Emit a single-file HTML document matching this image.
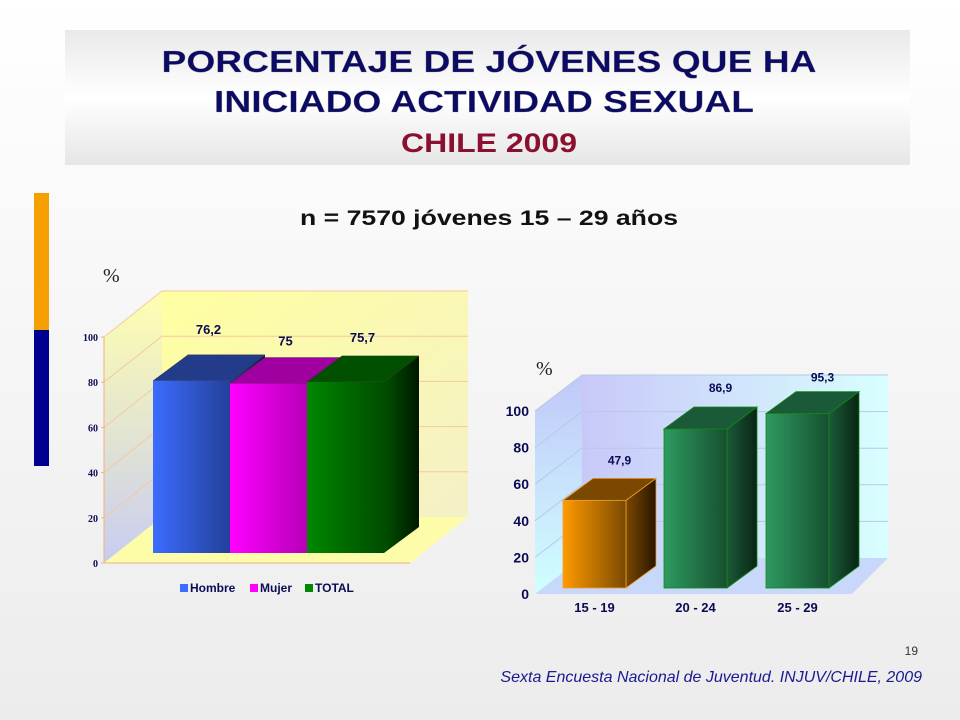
<!DOCTYPE html>
<html><head><meta charset="utf-8"><style>
body{margin:0;background:#fff;}
svg{display:block;font-family:"Liberation Sans",Arial,sans-serif;}
</style></head><body>
<svg id="s" width="960" height="720" viewBox="0 0 960 720">
<defs>
<linearGradient id="bg" x1="0" y1="0" x2="0" y2="1"><stop offset="0" stop-color="#ffffff"/><stop offset="1" stop-color="#ececec"/></linearGradient>
<linearGradient id="tb" x1="0" y1="0" x2="0" y2="1"><stop offset="0" stop-color="#e9e9e9"/><stop offset="0.5" stop-color="#ffffff"/><stop offset="1" stop-color="#e6e6e6"/></linearGradient>
<linearGradient id="wall1" x1="0" y1="0" x2="1" y2="1"><stop offset="0" stop-color="#ffffa0"/><stop offset="1" stop-color="#f4f0c8"/></linearGradient>
<linearGradient id="side1" x1="0" y1="0" x2="0" y2="1"><stop offset="0" stop-color="#ffffb0"/><stop offset="1" stop-color="#c8ccf0"/></linearGradient>
<linearGradient id="wall2" x1="0" y1="0" x2="1" y2="0"><stop offset="0" stop-color="#c8c8f8"/><stop offset="1" stop-color="#d8ffff"/></linearGradient>
<linearGradient id="side2" x1="0" y1="0" x2="0" y2="1"><stop offset="0" stop-color="#c0c8f8"/><stop offset="1" stop-color="#d0ffff"/></linearGradient>
</defs>
<rect width="960" height="720" fill="url(#bg)"/>
<rect x="65" y="30" width="845" height="135" fill="url(#tb)"/>
<g font-weight="bold" text-anchor="middle">
<text x="489" y="72" font-size="31" fill="#0b0b66" textLength="655" lengthAdjust="spacingAndGlyphs" stroke="#888" stroke-width="0.3">PORCENTAJE DE JÓVENES QUE HA</text>
<text x="484" y="112" font-size="31" fill="#0b0b66" textLength="540" lengthAdjust="spacingAndGlyphs" stroke="#888" stroke-width="0.3">INICIADO ACTIVIDAD SEXUAL</text>
<text x="489" y="152" font-size="27" fill="#8b0f2e" textLength="176" lengthAdjust="spacingAndGlyphs">CHILE 2009</text>
</g>
<text x="489" y="225" font-size="21" font-weight="bold" text-anchor="middle" fill="#111" textLength="378" lengthAdjust="spacingAndGlyphs">n = 7570 jóvenes 15 – 29 años</text>
<rect x="34" y="193" width="15" height="137" fill="#f5a000"/>
<rect x="34" y="330" width="15" height="136" fill="#000090"/>
<text x="103" y="282" font-size="20" fill="#222" font-family="Liberation Serif,serif">%</text>
<text x="536" y="375" font-size="20" fill="#222" font-family="Liberation Serif,serif">%</text>
<g id="c1"></g>
<g id="c2"></g>
<text x="918" y="655" font-size="12" fill="#333" text-anchor="end">19</text>
<text x="922" y="682" font-size="16" font-style="italic" fill="#1a1a90" text-anchor="end">Sexta Encuesta Nacional de Juventud. INJUV/CHILE, 2009</text>
</svg>
<script>
const c1Categories = ["Hombre","Mujer","TOTAL"];
const c1Values = [76.2, 75, 75.7];
const c1Labels = ["76,2","75","75,7"];
const c1Ticks = [0,20,40,60,80,100];
const c2Categories = ["15 - 19","20 - 24","25 - 29"];
const c2Values = [47.9, 86.9, 95.3];
const c2Labels = ["47,9","86,9","95,3"];
const c2Ticks = [0,20,40,60,80,100];

const NS="http://www.w3.org/2000/svg";
let gid=0;
function mk(parent,tag,attrs){const e=document.createElementNS(NS,tag);for(const k in attrs)e.setAttribute(k,attrs[k]);parent.appendChild(e);return e;}
function grad(c1,c2){const defs=document.querySelector('defs');const id='g'+(gid++);const g=mk(defs,'linearGradient',{id:id,x1:0,y1:0,x2:1,y2:0});mk(g,'stop',{offset:0,'stop-color':c1});mk(g,'stop',{offset:1,'stop-color':c2});return 'url(#'+id+')';}

// Chart 1
(function(){
  const g=document.getElementById('c1');
  const ax=104, base=563, sc=2.26, dx=58, dy=-46, fw=306;
  const y=v=>base-v*sc;
  mk(g,'polygon',{points:`${ax},${base} ${ax+dx},${base+dy} ${ax+dx},${y(100)+dy} ${ax},${y(100)}`,fill:'url(#side1)'});
  mk(g,'rect',{x:ax+dx,y:y(100)+dy,width:fw,height:100*sc,fill:'url(#wall1)'});
  mk(g,'polygon',{points:`${ax},${base} ${ax+dx},${base+dy} ${ax+dx+fw},${base+dy} ${ax+fw},${base}`,fill:'#fdfca8'});
  c1Ticks.forEach(t=>{
    if(t>0){const l=mk(g,'polyline',{points:`${ax},${y(t)} ${ax+dx},${y(t)+dy} ${ax+dx+fw},${y(t)+dy}`,fill:'none',stroke:'#f3c9a0','stroke-width':1});
    
    }
    const tx=mk(g,'text',{x:ax-6,y:y(t)+4,'font-size':10,'font-weight':'bold','font-family':'Liberation Serif,serif',fill:'#0b0b55','text-anchor':'end'});tx.textContent=t;
    
    
    mk(g,'line',{x1:ax-3,x2:ax,y1:y(t),y2:y(t),stroke:'#f0b080'});
  });
  mk(g,'line',{x1:ax,y1:y(0),x2:ax,y2:y(100),stroke:'#f0b080'});
  mk(g,'line',{x1:ax,y1:base,x2:ax+fw,y2:base,stroke:'#f0b080'});
  const cols=[["#3c6cff","#23409a","#233c8a","#0e1c50"],["#ff00ff","#b800b8","#a000a0","#500050"],["#008800","#004c00","#005000","#001800"]];
  const bb=553, bw=77, bx0=153, sdx=35, sdy=-26;
  c1Values.forEach((v,i)=>{
    const x=bx0+i*bw, top=bb-v*sc, c=cols[i];
    mk(g,'polygon',{points:`${x+bw},${bb} ${x+bw+sdx},${bb+sdy} ${x+bw+sdx},${top+sdy} ${x+bw},${top}`,fill:grad(c[2],c[3])});
    mk(g,'polygon',{points:`${x},${top} ${x+sdx},${top+sdy} ${x+bw+sdx},${top+sdy} ${x+bw},${top}`,fill:c[2],stroke:'#333','stroke-width':0.4});
    const f=mk(g,'rect',{x:x,y:top,width:bw,height:bb-top,fill:grad(c[0],c[1])});
    
    
    const t=mk(g,'text',{x:x+bw/2+17,y:top-[47,38,40][i],'font-size':13,'font-weight':'bold',fill:'#0b0b55','text-anchor':'middle'});t.textContent=c1Labels[i];
    
    
  });
  const lg=mk(g,'g',{});
  
  
  const lx=[180,250,305];
  c1Categories.forEach((c,i)=>{
    mk(lg,'rect',{x:lx[i],y:584,width:8,height:8,fill:cols[i][0]});
    const t=mk(lg,'text',{x:lx[i]+10,y:592,'font-size':12,'font-weight':'bold',fill:'#0b0b55'});t.textContent=c;
    
    
  });
})();

// Chart 2
(function(){
  const g=document.getElementById('c2');
  const ax=535, base=594, sc=1.83, dx=47, dy=-36, fw=306;
  const y=v=>base-v*sc;
  mk(g,'polygon',{points:`${ax},${base} ${ax+dx},${base+dy} ${ax+dx},${y(100)+dy} ${ax},${y(100)}`,fill:'url(#side2)'});
  mk(g,'rect',{x:ax+dx,y:y(100)+dy,width:fw,height:100*sc,fill:'url(#wall2)'});
  mk(g,'polygon',{points:`${ax},${base} ${ax+dx},${base+dy} ${ax+dx+fw},${base+dy} ${ax+fw+11},${base}`,fill:'#c8d8fa'});
  c2Ticks.forEach(t=>{
    if(t>0){const l=mk(g,'polyline',{points:`${ax},${y(t)} ${ax+dx},${y(t)+dy} ${ax+dx+fw},${y(t)+dy}`,fill:'none',stroke:'#b8c8e8','stroke-width':1});
    
    }
    const tx=mk(g,'text',{x:ax-6,y:y(t)+5,'font-size':14,'font-weight':'bold',fill:'#0b0b55','text-anchor':'end'});tx.textContent=t;
    
    
  });
  const cols=[["#ff9a00","#7a4a00","#7a4800","#2a1600","#f0a030"],["#2e9a60","#165030","#1a5a38","#0a2414","#118811"],["#2e9a60","#165030","#1a5a38","#0a2414","#118811"]];
  const bb=588, bw=63, xs=[563,664,766], sdx=30, sdy=-22;
  c2Values.forEach((v,i)=>{
    const x=xs[i], top=bb-v*sc, c=cols[i];
    mk(g,'polygon',{points:`${x+bw},${bb} ${x+bw+sdx},${bb+sdy} ${x+bw+sdx},${top+sdy} ${x+bw},${top}`,fill:grad(c[2],c[3]),stroke:c[4],'stroke-width':0.8});
    mk(g,'polygon',{points:`${x},${top} ${x+sdx},${top+sdy} ${x+bw+sdx},${top+sdy} ${x+bw},${top}`,fill:c[2],stroke:c[4],'stroke-width':0.8});
    const f=mk(g,'rect',{x:x,y:top,width:bw,height:bb-top,fill:grad(c[0],c[1]),stroke:c[4],'stroke-width':0.8});
    
    
    const t=mk(g,'text',{x:x+bw/2+25,y:top-[36,37,32][i],'font-size':12,'font-weight':'bold',fill:'#0b0b55','text-anchor':'middle'});t.textContent=c2Labels[i];
    
    
    const c2=mk(g,'text',{x:x+bw/2,y:612,'font-size':13,'font-weight':'bold',fill:'#0b0b55','text-anchor':'middle'});c2.textContent=c2Categories[i];
    
    
  });
})();
</script>
</body></html>
